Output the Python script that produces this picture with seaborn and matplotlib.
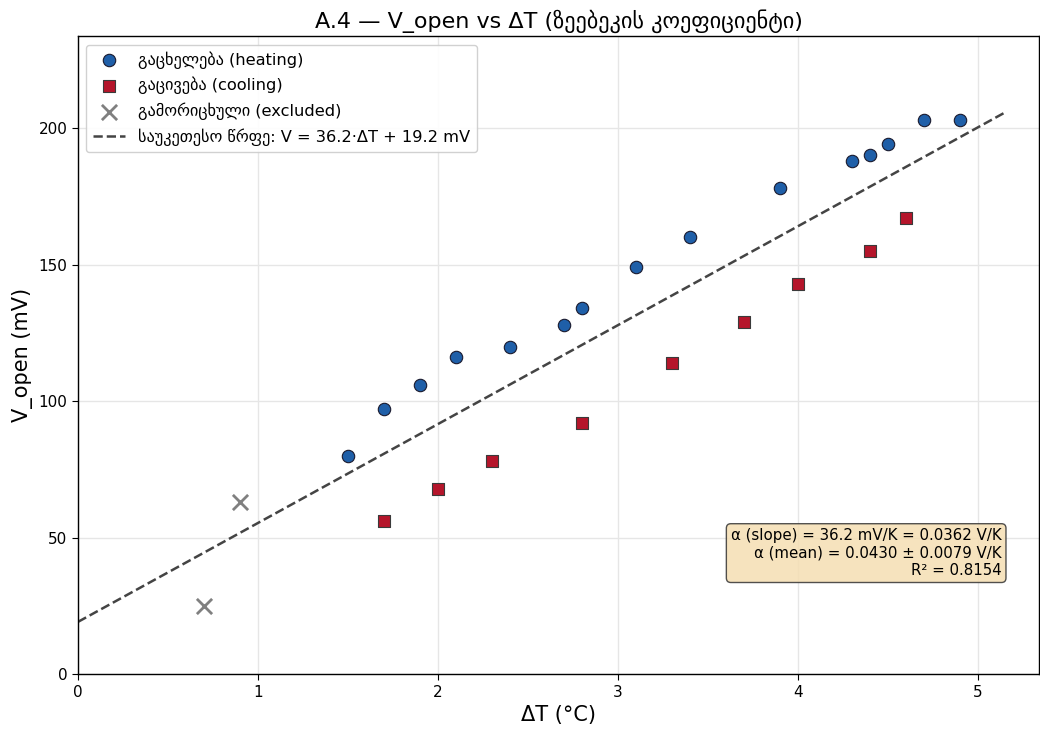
import matplotlib
matplotlib.use("Agg")
import matplotlib.pyplot as plt
import seaborn as sns
import numpy as np

# heating / cooling measurements (dT in °C, V in mV)
heat_dt = [1.5, 1.7, 1.9, 2.1, 2.4, 2.7, 2.8, 3.1, 3.4, 3.9, 4.3, 4.4, 4.5, 4.7, 4.9]
heat_v = [80, 97, 106, 116, 120, 128, 134, 149, 160, 178, 188, 190, 194, 203, 203]
cool_dt = [1.7, 2.0, 2.3, 2.8, 3.3, 3.7, 4.0, 4.4, 4.6]
cool_v = [56, 68, 78, 92, 114, 129, 143, 155, 167]
excl_dt = [0.7, 0.9]
excl_v = [25, 63]

slope = 36.2
intercept = 19.2
fit_x = [0.0, 5.15]
fit_y = [slope * x + intercept for x in fit_x]

sns.set_style("whitegrid")
plt.rcParams['font.family'] = ['DejaVu Sans']
plt.rcParams['text.color'] = 'black'
plt.rcParams['axes.labelcolor'] = 'black'
plt.rcParams['xtick.color'] = 'black'
plt.rcParams['ytick.color'] = 'black'

fig, ax = plt.subplots(figsize=(10.4, 7.29), dpi=100)

sns.scatterplot(x=heat_dt, y=heat_v, ax=ax, marker='o', s=80, color='#1f5fa8',
                edgecolor='#1a1a2e', linewidth=0.8, label='გაცხელება (heating)', zorder=3)
sns.scatterplot(x=cool_dt, y=cool_v, ax=ax, marker='s', s=80, color='#b5152b',
                edgecolor='#3a3a3a', linewidth=0.8, label='გაცივება (cooling)', zorder=3)
ax.scatter(excl_dt, excl_v, marker='x', s=120, color='gray', linewidths=2,
           label='გამორიცხული (excluded)', zorder=3)
sns.lineplot(x=fit_x, y=fit_y, ax=ax, color='#444444', linestyle='--', linewidth=1.8,
             label=f'საუკეთესო წრფე: V = {slope}·ΔT + {intercept} mV', zorder=2)

ax.set_xlim(0, 5.34)
ax.set_ylim(0, 233.5)
ax.set_xlabel('ΔT (°C)', fontsize=15)
ax.set_ylabel('V_open (mV)', fontsize=15)
ax.set_title('A.4 — V_open vs ΔT (ზეებეკის კოეფიციენტი)', fontsize=16)
ax.tick_params(labelsize=11, left=True, bottom=True, length=4, color='black')
ax.grid(True, color='#e6e6e6', linewidth=1)
for s in ax.spines.values():
    s.set_color('black')
    s.set_linewidth(1)

ax.legend(loc='upper left', fontsize=11.7, frameon=True, framealpha=0.9)

txt = ('α (slope) = 36.2 mV/K = 0.0362 V/K\n'
       'α (mean) = 0.0430 ± 0.0079 V/K\n'
       'R² = 0.8154')
ax.text(0.961, 0.151, txt, transform=ax.transAxes, ha='right', va='bottom', fontsize=10.8,
        multialignment='right',
        bbox=dict(boxstyle='round,pad=0.3', facecolor='wheat', edgecolor='#333333', alpha=0.85))

fig.subplots_adjust(left=0.075, right=0.999, top=0.95, bottom=0.075)
fig.savefig('out.png', dpi=100)
